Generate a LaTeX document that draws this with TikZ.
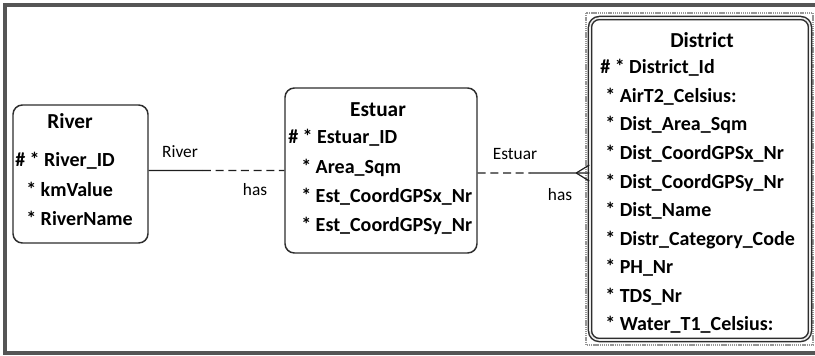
\documentclass[tikz,border=0pt]{standalone}
\usepackage{fontspec}
\setmainfont{Carlito}
\usetikzlibrary{calc}

\begin{document}
\begin{tikzpicture}[x=0.75pt,y=0.75pt,yscale=-1,xscale=1,
  entity/.style={draw={rgb, 255:red, 45; green, 45; blue, 45 },line width=1.1pt,rounded corners=7pt,fill=white,inner sep=0pt},
  title/.style={inner sep=0.75pt,font=\fontsize{16}{19}\selectfont\bfseries},
  attr/.style={anchor=west,inner sep=0.75pt,font=\fontsize{15}{17}\selectfont\bfseries},
  role/.style={inner sep=0.75pt,font=\fontsize{13}{15}\selectfont},
  link/.style={draw={rgb, 255:red, 30; green, 30; blue, 30 },line width=0.9pt}]
\useasboundingbox (0,0) rectangle (815,355);

%Frame
\draw [color={rgb, 255:red, 85; green, 85; blue, 85 },line width=3.2pt] (815,5) -- (5,5) -- (5,353) -- (815,353) ;

%Shape: District outer
\draw [color={rgb, 255:red, 150; green, 150; blue, 150 },line width=0.8pt,dash pattern={on 1pt off 0.6pt}] (586,13) rectangle (813,345) ;

%Entities
\node (river) [entity,minimum width=135*0.75pt,minimum height=138*0.75pt] at (80.5,174) {};
\node (estuar) [entity,minimum width=192*0.75pt,minimum height=165*0.75pt] at (381,170.5) {};
\node (district) [entity,minimum width=220*0.75pt,minimum height=322*0.75pt,double={rgb, 255:red, 235; green, 235; blue, 235 },double distance=1.2pt] at (700,179) {};

%Straight Lines: River -- Estuar
\coordinate (rsplit) at ($(river.east |- estuar.west)!0.4!(estuar.west)$);
\draw [link] (river.east |- estuar.west) -- (rsplit) ;
\draw [link,dash pattern={on 6pt off 3.5pt}] (rsplit) -- (estuar.west) ;

%Straight Lines: Estuar -- District
\coordinate (eend) at ($(estuar.east)+(0,2.5)$);
\coordinate (dend) at (district.west |- eend);
\coordinate (esplit) at ($(eend)!0.47!(dend)$);
\coordinate (crow) at ($(dend)+(-13,0)$);
\draw [link,dash pattern={on 6pt off 3.5pt}] (eend) -- (esplit) ;
\draw [link] (esplit) -- (dend) ;
\draw [link] (crow) -- ($(dend)+(0,-8)$) (crow) -- ($(dend)+(0,8)$) ;

% Text Node
\node (rivertitle) [title] at (70,121) {River};
\node (riverid) [attr] at (14,161) {\# * River\_ID};
\node (riverkm) [attr] at (25,189) {* kmValue};
\node (rivername) [attr] at (25,218) {* RiverName};

% Text Node
\node (estuartitle) [title] at (378,110) {Estuar};
\node (estuarid) [attr] at (287,138) {\# * Estuar\_ID};
\node (estuararea) [attr] at (300,168) {* Area\_Sqm};
\node (estuarx) [attr] at (300,197) {* Est\_CoordGPSx\_Nr};
\node (estuary) [attr] at (300,226) {* Est\_CoordGPSy\_Nr};

% Text Node
\node (districttitle) [title] at (702,40) {District};
\node (districtid) [attr] at (599,68) {\# * District\_Id};
\node (districtair) [attr] at (604,97) {* AirT2\_Celsius:};
\node (districtarea) [attr] at (604,125) {* Dist\_Area\_Sqm};
\node (districtx) [attr] at (604,154) {* Dist\_CoordGPSx\_Nr};
\node (districty) [attr] at (604,183) {* Dist\_CoordGPSy\_Nr};
\node (districtname) [attr] at (604,211) {* Dist\_Name};
\node (districtcat) [attr] at (604,240) {* Distr\_Category\_Code};
\node (districtph) [attr] at (604,268) {* PH\_Nr};
\node (districttds) [attr] at (604,297) {* TDS\_Nr};
\node (districtwater) [attr] at (604,325) {* Water\_T1\_Celsius:};

% Text Node
\node (riverrole) [role] at (180,152) {River};
\node (riverhas) [role] at (255,190) {has};
\node (estuarrole) [role] at (515,154) {Estuar};
\node (estuarhas) [role] at (560,195) {has};

\end{tikzpicture}
\end{document}
